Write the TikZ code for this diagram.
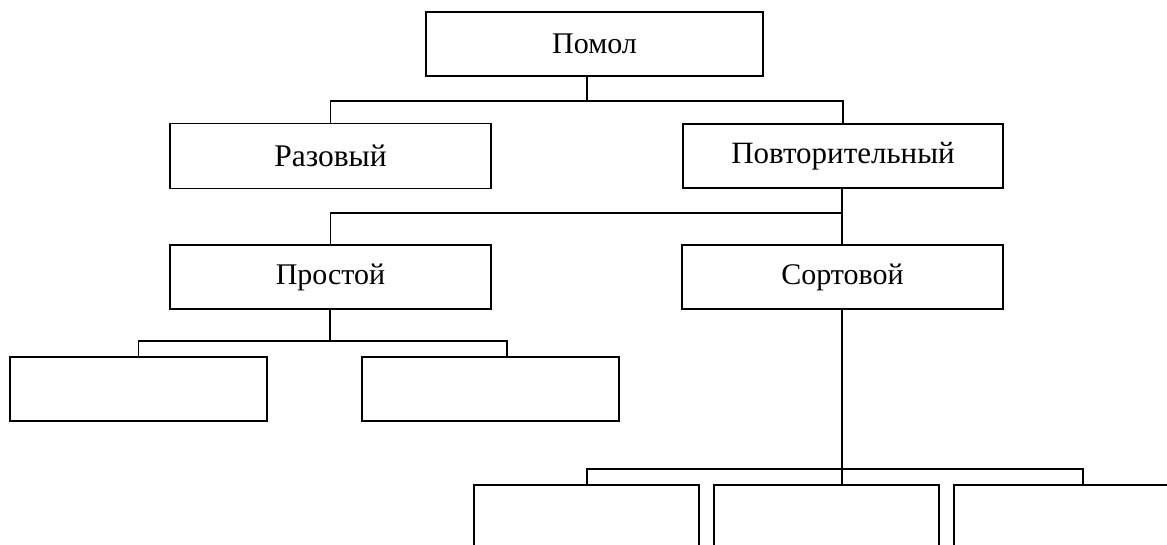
\documentclass[tikz,border=0pt]{standalone}
\usepackage{fontspec}
\setmainfont{Liberation Serif}
\begin{document}
\begin{tikzpicture}[x=1pt,y=-1pt,
  box/.style={draw,line width=1.6pt,rectangle,inner sep=0pt,anchor=center},
  fs/.style={font=\fontsize{#1}{#1}\selectfont},
  conn/.style={line width=1.6pt}]
\clip (0,0) rectangle (1167,544);
\fill[white] (0,0) rectangle (1167,544);
% level 0
\node[box,fs=30,minimum width=337pt,minimum height=64pt] (pomol) at (594.5,44) {Помол};
% level 1
\node[box,fs=31.5,minimum width=321pt,minimum height=65pt] (razovy) at (330.5,156) {Разовый};
\node[box,fs=31,minimum width=320pt,minimum height=64pt] (povt) at (843,156) {Повторительный};
% level 2
\node[box,fs=30,minimum width=321pt,minimum height=64pt] (prostoy) at (330.5,277) {Простой};
\node[box,fs=30,minimum width=321pt,minimum height=64pt] (sortovoy) at (842.5,277) {Сортовой};
% level 3
\node[box,minimum width=257pt,minimum height=64pt] (l1) at (138.5,389) {};
\node[box,minimum width=257pt,minimum height=64pt] (l2) at (490.5,389) {};
% level 4
\node[box,minimum width=225pt,minimum height=100pt] (b1) at (586.5,535) {};
\node[box,minimum width=225pt,minimum height=100pt] (b2) at (826.5,535) {};
\node[box,minimum width=225pt,minimum height=100pt] (b3) at (1066.5,535) {};
% junctions
\coordinate (j1) at (587,101);
\coordinate (j2) at (842,213);
\coordinate (j3) at (330,341);
\coordinate (c3) at (507,341);
\coordinate (j4) at (842,469);
\coordinate (c4a) at (587,469);
\coordinate (c4c) at (1083,469);
% connectors
\draw[conn] (pomol.south -| j1) -- (j1);
\draw[conn] (razovy.north) |- (j1) -| (povt.north);
\draw[conn] (povt.south -| j2) -- (sortovoy.north -| j2);
\draw[conn] (prostoy.north) |- (j2);
\draw[conn] (prostoy.south -| j3) -- (j3);
\draw[conn] (l1.north) |- (c3) -- (c3 |- l2.north);
\draw[conn] (sortovoy.south -| j4) -- (j4 |- b2.north);
\draw[conn] (c4a |- b1.north) -- (c4a) -- (c4c) -- (c4c |- b3.north);
\end{tikzpicture}
\end{document}
